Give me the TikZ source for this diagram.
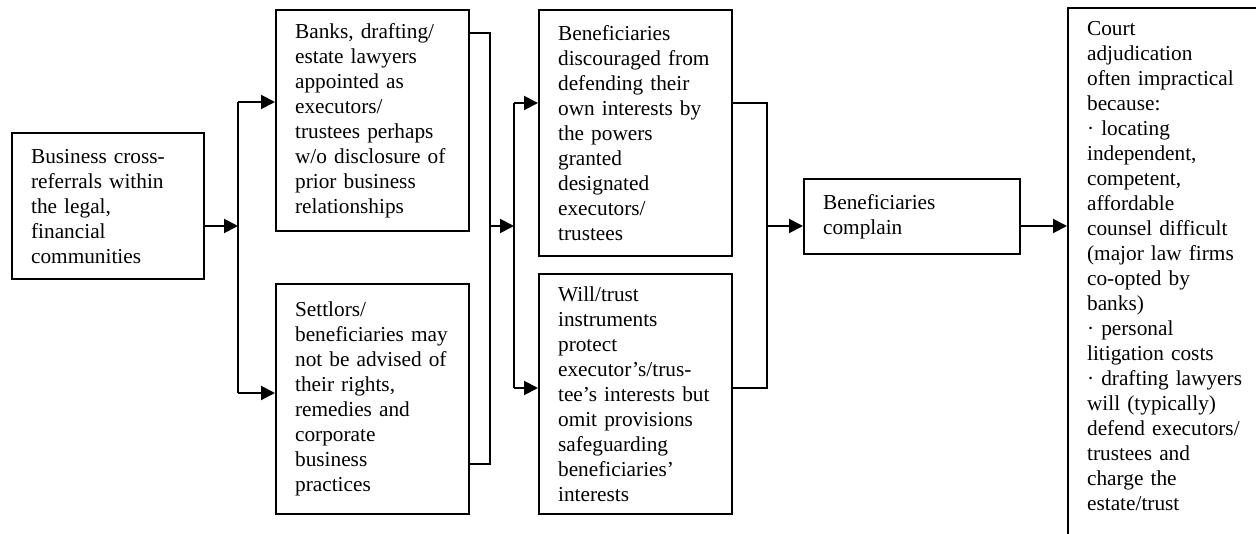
\documentclass[tikz,border=0pt]{standalone}
\usepackage{fontspec}
\setmainfont{Liberation Serif}
\usetikzlibrary{arrows.meta, positioning}

\begin{document}
\begin{tikzpicture}[x=1pt, y=-1pt,
  box/.style={rectangle, draw, line width=2.2pt, anchor=north west, align=left, inner xsep=19pt, inner ysep=0pt, font=\fontsize{21.3}{25}\selectfont},
  arr/.style={-{Triangle[length=14pt,width=14pt]}, line width=2pt},
  wire/.style={line width=2pt}
]
  \useasboundingbox (0,0) rectangle (1256,534);
  \clip (0,0) rectangle (1256,534);

  \node[box, text width=154pt, minimum height=146pt] (cross) at (11,132) {Business cross-\\referrals within\\the legal,\\financial\\communities};
  \node[box, text width=155pt, minimum height=221pt] (banks) at (275,9) {Banks, drafting/\\estate lawyers\\appointed as\\executors/\\trustees perhaps\\w/o disclosure of\\prior business\\relationships};
  \node[box, text width=155pt, minimum height=230pt] (settlors) at (275,283) {Settlors/\\beneficiaries may\\not be advised of\\their rights,\\remedies and\\corporate\\business\\practices};
  \node[box, text width=155pt, minimum height=246pt] (discouraged) at (538,9) {Beneficiaries\\discouraged from\\defending their\\own interests by\\the powers\\granted\\designated\\executors/\\trustees};
  \node[box, text width=155pt, minimum height=240pt] (instruments) at (538,273) {Will/trust\\instruments\\protect\\executor’s/trus-\\tee’s interests but\\omit provisions\\safeguarding\\beneficiaries’\\interests};
  \node[box, text width=178pt, minimum height=75pt] (complain) at (803,178) {Beneficiaries\\complain};
  \node[box, text width=200pt, inner ysep=13pt] (court) at (1067,7) {Court\\adjudication\\often impractical\\because:\\· locating\\independent,\\competent,\\affordable\\counsel difficult\\(major law firms\\co-opted by\\banks)\\· personal\\litigation costs\\· drafting lawyers\\will (typically)\\defend executors/\\trustees and\\charge the\\estate/trust\\[40pt]~};

  \coordinate (split1) at (238,226);
  \coordinate (fork1a) at (238,102);
  \coordinate (fork1b) at (238,393);
  \coordinate (join1a) at (490,33);
  \coordinate (join1b) at (490,464);
  \coordinate (split2) at (490,226);
  \coordinate (fork2a) at (514,103);
  \coordinate (fork2b) at (514,388);
  \coordinate (join2a) at (767,103);
  \coordinate (join2b) at (767,388);
  \coordinate (split3) at (767,226);

  \draw[arr] (cross.east |- split1) -- (split1);
  \draw[wire] (fork1a) -- (fork1b);
  \draw[arr] (fork1a) -- (fork1a -| banks.west);
  \draw[arr] (fork1b) -- (fork1b -| settlors.west);
  \draw[wire] (banks.east |- join1a) -- (join1a) -- (join1b) -- (settlors.east |- join1b);
  \draw[arr] (split2) -- (split2 -| fork2a);
  \draw[wire] (fork2a) -- (fork2b);
  \draw[arr] (fork2a) -- (fork2a -| discouraged.west);
  \draw[arr] (fork2b) -- (fork2b -| instruments.west);
  \draw[wire] (discouraged.east |- join2a) -- (join2a) -- (join2b) -- (instruments.east |- join2b);
  \draw[arr] (split3) -- (split3 -| complain.west);
  \draw[arr] (complain.east |- split3) -- (court.west |- split3);
\end{tikzpicture}
\end{document}
